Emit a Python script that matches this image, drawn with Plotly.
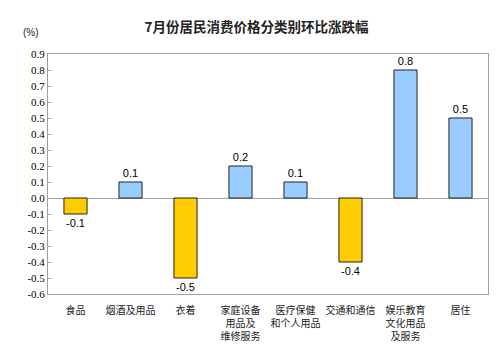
import plotly.graph_objects as go

categories = ["食品", "烟酒及用品", "衣着", "家庭设备<br>用品及<br>维修服务", "医疗保健<br>和个人用品",
              "交通和通信", "娱乐教育<br>文化用品<br>及服务", "居住"]
values = [-0.1, 0.1, -0.5, 0.2, 0.1, -0.4, 0.8, 0.5]
tick_vals = [-0.6, -0.5, -0.4, -0.3, -0.2, -0.1, 0.0, 0.1, 0.2, 0.3, 0.4, 0.5, 0.6, 0.7, 0.8, 0.9]
tick_text = ["%.1f" % v for v in tick_vals]

colors = ["#FFCC00" if v < 0 else "#99CCFF" for v in values]

fig = go.Figure(go.Bar(
    x=categories, y=values, width=0.42,
    marker=dict(color=colors, line=dict(color="#222222", width=1)),
    text=["%.1f" % v for v in values], textposition="outside",
    textfont=dict(family="Liberation Sans, Arial", size=11, color="#000"),
    cliponaxis=False,
))

# the page body has an 8px margin, so the figure is drawn 8px smaller
fig.update_layout(
    width=492, height=350,
    margin=dict(l=40, r=12, t=46, b=64),
    plot_bgcolor="white", paper_bgcolor="white",
    showlegend=False,
    title=dict(text="<b>7月份居民消费价格分类别环比涨跌幅</b>", x=0.505, xanchor="center", y=0.945, yanchor="middle",
               font=dict(family="Noto Sans CJK SC", size=13.5, color="#222")),
    font=dict(family="Noto Sans CJK SC", size=10, color="#222"),
)
fig.update_xaxes(
    showline=True, linecolor="#A0A0A0", linewidth=1, mirror=True, automargin=False,
    tickfont=dict(family="Noto Sans CJK SC", size=10, color="#222"),
    ticks="", tickangle=0, ticklabelstandoff=7,
)
fig.update_yaxes(
    range=[-0.6, 0.9], tickvals=tick_vals, ticktext=tick_text, automargin=False,
    showline=True, linecolor="#A0A0A0", linewidth=1, mirror=True,
    showgrid=False, zeroline=True, zerolinecolor="#A0A0A0", zerolinewidth=1,
    ticks="inside", ticklen=3, tickcolor="#A0A0A0",
    tickfont=dict(family="Liberation Serif, Times New Roman", size=11, color="#000"),
)
fig.add_annotation(text="(%)", xref="paper", yref="paper", x=-0.039, y=1.09, showarrow=False,
                   xanchor="center", yanchor="middle",
                   font=dict(family="Liberation Sans, Arial", size=10, color="#222"))

fig.write_html("out.html")
